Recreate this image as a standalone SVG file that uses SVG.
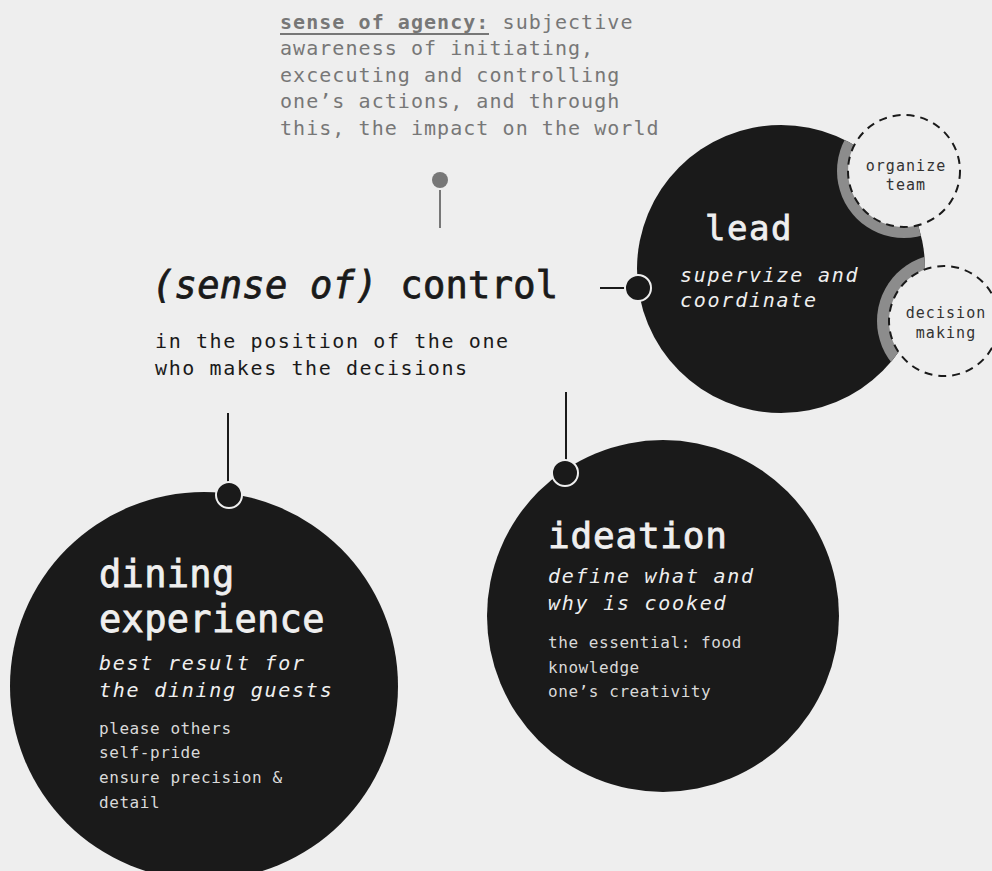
<svg xmlns="http://www.w3.org/2000/svg" width="992" height="871" viewBox="0 0 992 871">
  <style>
    .mono { font-family: "DejaVu Sans Mono", "Liberation Mono", monospace; }
    .dark { fill: #1a1a1a; }
    .light { fill: #efefef; }
    .soft { fill: #d9d9d9; }
    .grey { fill: #777777; }
    .title { font-size: 37px; letter-spacing: 0.3px; }
    .heavy-dark { stroke: #1a1a1a; stroke-width: 0.8; }
    .heavy-light { stroke: #efefef; stroke-width: 0.8; }
    .sub { font-size: 20px; letter-spacing: 1.75px; font-style: italic; }
    .item { font-size: 16px; letter-spacing: 0.57px; }
    .tag { font-size: 15px; letter-spacing: 1.05px; fill: #333333; text-anchor: middle; }
    .wire { stroke: #1a1a1a; stroke-width: 2; fill: none; }
    .dot { fill: #1a1a1a; stroke: #efefef; stroke-width: 2; }
    .dash { fill: #eeeeee; stroke: #1a1a1a; stroke-width: 2; stroke-dasharray: 8 6; }
  </style>
  <defs>
    <clipPath id="leadClip">
      <circle cx="781" cy="269" r="144"/>
    </clipPath>
  </defs>

  <rect width="992" height="871" fill="#eeeeee"/>

  <!-- definition note -->
  <g id="agency" class="mono grey" font-size="20" letter-spacing="1.05">
    <text x="280" y="29"><tspan font-weight="bold">sense of agency:</tspan> subjective</text>
    <line x1="280" y1="34" x2="489" y2="34" stroke="#777777" stroke-width="2"/>
    <text x="280" y="55">awareness of initiating,</text>
    <text x="280" y="82">excecuting and controlling</text>
    <text x="280" y="108">one’s actions, and through</text>
    <text x="280" y="135">this, the impact on the world</text>
  </g>

  <!-- central topic -->
  <g id="control" class="mono dark">
    <text x="152" y="298" class="title heavy-dark"><tspan font-style="italic">(sense of)</tspan> control</text>
    <text x="155" y="348" font-size="20" letter-spacing="1.6">in the position of the one</text>
    <text x="155" y="375" font-size="20" letter-spacing="1.6">who makes the decisions</text>
  </g>

  <!-- lead -->
  <g id="lead" class="mono">
    <circle cx="781" cy="269" r="144" fill="#1a1a1a"/>
    <g clip-path="url(#leadClip)" fill="#8c8c8c">
      <circle cx="904" cy="171" r="67"/>
      <circle cx="944" cy="321" r="67"/>
    </g>
    <text x="705" y="240" font-size="34" letter-spacing="1.5" class="light heavy-light">lead</text>
    <text x="680" y="282" class="sub light">supervize and</text>
    <text x="680" y="307" class="sub light">coordinate</text>
  </g>

  <g id="organize-team" class="mono">
    <circle cx="904" cy="171" r="56" class="dash"/>
    <text x="906" y="171" class="tag">organize</text>
    <text x="906" y="190" class="tag">team</text>
  </g>

  <g id="decision-making" class="mono">
    <circle cx="944" cy="321" r="55" class="dash"/>
    <text x="946" y="318" class="tag">decision</text>
    <text x="946" y="338" class="tag">making</text>
  </g>

  <!-- ideation -->
  <g id="ideation" class="mono">
    <circle cx="663" cy="616" r="176" fill="#1a1a1a"/>
    <text x="548" y="548" font-size="36" letter-spacing="0.8" class="light heavy-light">ideation</text>
    <text x="548" y="583" class="sub light" letter-spacing="1.85">define what and</text>
    <text x="548" y="610" class="sub light" letter-spacing="1.85">why is cooked</text>
    <text x="548" y="648" class="item soft">the essential: food</text>
    <text x="548" y="673" class="item soft">knowledge</text>
    <text x="548" y="697" class="item soft">one’s creativity</text>
  </g>

  <!-- dining experience -->
  <g id="dining" class="mono">
    <circle cx="204" cy="686" r="194" fill="#1a1a1a"/>
    <text x="99" y="587" class="title light heavy-light">dining</text>
    <text x="99" y="632" class="title light heavy-light">experience</text>
    <text x="99" y="670" class="sub light">best result for</text>
    <text x="99" y="697" class="sub light">the dining guests</text>
    <text x="99" y="734" class="item soft">please others</text>
    <text x="99" y="758" class="item soft">self-pride</text>
    <text x="99" y="783" class="item soft">ensure precision &amp;</text>
    <text x="99" y="808" class="item soft">detail</text>
  </g>

  <!-- connectors -->
  <g id="connectors">
    <line x1="440" y1="190" x2="440" y2="228" stroke="#777777" stroke-width="2"/>
    <circle cx="440" cy="180" r="8" fill="#777777"/>

    <line x1="600" y1="288" x2="626" y2="288" class="wire"/>
    <circle cx="638" cy="288" r="13" class="dot"/>

    <line x1="566" y1="392" x2="566" y2="461" class="wire"/>
    <circle cx="565" cy="473" r="13" class="dot"/>

    <line x1="228" y1="413" x2="228" y2="483" class="wire"/>
    <circle cx="229" cy="495" r="13" class="dot"/>
  </g>
</svg>
